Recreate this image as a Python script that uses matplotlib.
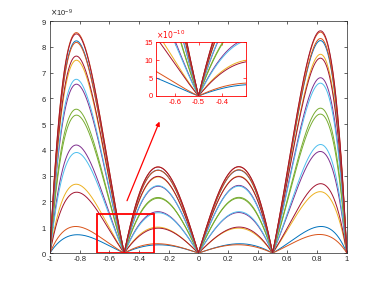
import numpy as np
import matplotlib
matplotlib.use("Agg")
import matplotlib.pyplot as plt
from matplotlib.ticker import ScalarFormatter, FuncFormatter
from matplotlib.patches import Rectangle

# interpolation nodes (zeros of every curve)
nodes = [-1.0, -0.5, 0.0, 0.5, 1.0]
# peak heights (units of 1e-9) read at the outer humps x≈-0.82 and x≈0.82
left_peaks = [0.71, 1.03, 2.67, 2.36, 4.19, 3.90, 5.35, 5.58,
              6.55, 6.74, 7.48, 7.64, 8.23, 8.17, 8.55, 8.50]
right_peaks = [1.03, 0.72, 2.38, 2.69, 3.94, 4.21, 5.62, 5.39,
               6.80, 6.59, 7.71, 7.56, 8.24, 8.32, 8.57, 8.62]
curve_colors = ['#0072BD', '#D95319', '#EDB120', '#A2142F', '#7E2F8E', '#4DBEEE',
                '#77AC30', '#77AC30', '#7E2F8E', '#4DBEEE', '#EDB120', '#A2142F',
                '#0072BD', '#D95319', '#D95319', '#A2142F']
scale = 1e-9

x_ticks = [-1, -0.8, -0.6, -0.4, -0.2, 0, 0.2, 0.4, 0.6, 0.8, 1]
x_ticklabels = ['-1', '-0.8', '-0.6', '-0.4', '-0.2', '0', '0.2', '0.4', '0.6', '0.8', '1']
y_ticks = [0, 1, 2, 3, 4, 5, 6, 7, 8, 9]
inset_xticks = [-0.6, -0.5, -0.4]
inset_xticklabels = ['-0.6', '-0.5', '-0.4']
inset_yticks = [0, 5, 10, 15]
inset_scale = 1e-10
zoom_box = (-0.68, -0.3, 0.0, 1.5)  # x0, x1, y0, y1 (y in 1e-9)

plt.rcParams['font.family'] = ['Liberation Sans', 'DejaVu Sans']
TXT = '#262626'

x = np.linspace(-1, 1, 1201)
omega = np.ones_like(x)
for n in nodes:
    omega = omega * (x - n)
xo = np.sqrt((3.75 + np.sqrt(3.75**2 - 5)) / 10)
om_peak = abs(np.prod([xo - n for n in nodes]))

curves = []
for L, R, c in zip(left_peaks, right_peaks, curve_colors):
    a = (L + R) / 2 / om_peak
    b = (R - L) / 2 / om_peak / xo
    y = np.abs(omega) * (a + b * x) * scale
    curves.append((y, c))

fig = plt.figure(figsize=(3.83, 2.84), dpi=100)
ax = fig.add_axes([0.1305, 0.109, 0.775, 0.817])
for y, c in curves:
    ax.plot(x, y, color=c, lw=0.7)
ax.set_xlim(-1, 1)
ax.set_ylim(0, 9e-9)
ax.set_xticks(x_ticks)
ax.set_xticklabels(x_ticklabels)
ax.set_yticks([v * scale for v in y_ticks])
fmt = ScalarFormatter(useMathText=True)
fmt.set_powerlimits((0, 0))
ax.yaxis.set_major_formatter(fmt)
ax.yaxis.get_offset_text().set_fontsize(5.5)
ax.yaxis.get_offset_text().set_color(TXT)
ax.tick_params(direction='in', length=2.5, width=0.5, labelsize=5.5,
               colors=TXT, top=True, right=True, pad=2)
for s in ax.spines.values():
    s.set_linewidth(0.5)
    s.set_color(TXT)

x0, x1, y0, y1 = zoom_box
ax.add_patch(Rectangle((x0, y0 * scale), x1 - x0, (y1 - y0) * scale,
                       fill=False, ec='red', lw=1.3, zorder=5))
ax.annotate('', xy=(-0.255, 5.2e-9), xytext=(-0.488, 1.93e-9),
            arrowprops=dict(arrowstyle='-|>', color='red', lw=0.9,
                            mutation_scale=6), zorder=6)

ins = fig.add_axes([0.407, 0.662, 0.235, 0.190])
for y, c in curves:
    ins.plot(x, y, color=c, lw=0.7)
ins.set_xlim(x0, x1)
ins.set_ylim(0, 1.5e-9)
ins.set_xticks(inset_xticks)
ins.set_xticklabels(inset_xticklabels)
ins.set_yticks([v * inset_scale for v in inset_yticks])
ins.yaxis.set_major_formatter(FuncFormatter(lambda v, p: f'{v / inset_scale:.0f}'))
ins.text(0.0, 1.01, r'$\times10^{-10}$', transform=ins.transAxes, color='red',
         fontsize=5.5, ha='left', va='bottom')
ins.tick_params(direction='in', length=2, width=0.5, labelsize=5.5,
                colors='red', top=True, right=True, pad=2)
for s in ins.spines.values():
    s.set_linewidth(0.6)
    s.set_color('red')

fig.savefig('out.png', dpi=100)
